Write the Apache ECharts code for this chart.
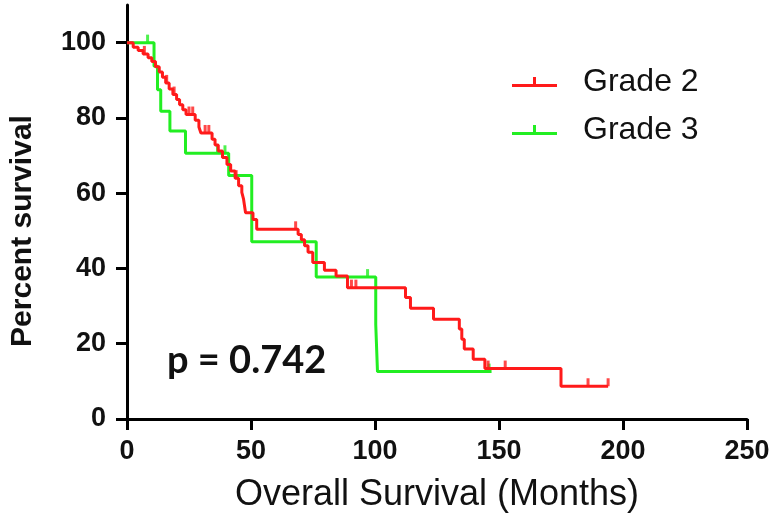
<!DOCTYPE html>
<html><head><meta charset="utf-8">
<script src="https://cdn.jsdelivr.net/npm/echarts@6/dist/echarts.min.js"></script>
<style>html,body{margin:0;padding:0;background:#fff}#c{width:779px;height:524px}</style>
</head><body><div id="c"></div>
<script>
// Grade 2 (red) Kaplan-Meier steps: time (months) and survival (%) after each event
const g2Time = [0, 2.5, 4.5, 6.5, 8.5, 10, 11.5, 13, 14.3, 15.6, 17, 18.5, 20, 21.2, 22.5, 23.8, 27.5, 29, 29.8, 34.3, 35.5, 36.8, 38.5, 40.3, 41.8, 43.6, 45, 46.3, 47, 47.8, 50.8, 52.3, 69, 70.3, 71.6, 73, 74.9, 79.6, 84.3, 88.9, 112.3, 114.3, 123.6, 134, 135, 136, 139.6, 144.3, 175, 194];
const g2Surv = [100, 98.8, 97.9, 97.0, 96.0, 95.0, 93.6, 92.2, 90.8, 89.3, 87.7, 86.2, 84.9, 83.5, 82.2, 80.9, 79.4, 77.6, 76.0, 74.3, 72.8, 71.2, 69.5, 67.6, 65.9, 64.0, 62.0, 60.2, 58.4, 54.8, 53.0, 50.4, 49.0, 47.6, 46.0, 44.3, 41.6, 39.5, 38.0, 34.9, 32.3, 29.4, 26.5, 23.9, 21.2, 18.6, 15.9, 13.4, 8.7, 8.7];
// Grade 2 censored observations
const g2CensTime = [7, 16, 19, 25, 26.5, 31.5, 33, 44, 68, 90.5, 92.3, 145.6, 152.5, 185.9, 194];
const g2CensSurv = [97.0, 89.3, 86.2, 80.9, 80.9, 76.0, 76.0, 64.0, 50.4, 34.9, 34.9, 13.4, 13.4, 8.7, 8.7];
// Grade 3 (green) Kaplan-Meier steps
const g3Time = [0, 10.9, 12.3, 13.6, 17.3, 23.6, 41, 50.3, 76.3, 100.3, 101, 147];
const g3Surv = [100, 93.7, 87.5, 81.8, 76.5, 70.6, 64.7, 47.1, 37.7, 25.1, 12.6, 12.6];
// Grade 3 censored observations
const g3CensTime = [8.3, 36.5, 39.5, 97, 146];
const g3CensSurv = [100, 70.6, 70.6, 37.7, 12.6];
// axes
const xTicks = [0, 50, 100, 150, 200, 250];
const yTicks = [0, 20, 40, 60, 80, 100];
const seriesNames = ['Grade 2', 'Grade 3'];
const pValueText = 'p = 0.742';

const RED = '#FF1A1A', GREEN = '#22EE22';
const pairs = (t, s) => t.map((v, i) => [v, s[i]]);
const legendIcon = 'path://M0,7h45v3H0z M21,0h3v7h-3z';
const censorSymbol = 'rect';

const chart = echarts.init(document.getElementById('c'), null, {renderer: 'canvas'});
chart.setOption({
  animation: false,
  backgroundColor: '#fff',
  grid: {left: 123, right: 32, top: 5, bottom: 105, containLabel: false},
  title: {
    text: pValueText, left: 162, top: 337,
    textStyle: {fontFamily: 'Lato', fontWeight: 'bold', fontSize: 38, color: '#111'}
  },
  legend: {
    data: seriesNames.map(n => ({name: n, icon: legendIcon})),
    orient: 'vertical', left: 512, top: 66, padding: 0,
    itemWidth: 45, itemHeight: 10, itemGap: 16,
    textStyle: {fontFamily: 'Liberation Sans', fontSize: 32, color: '#111', padding: [0, 0, 0, 21]}
  },
  xAxis: {
    type: 'value', min: 0, max: 250, interval: 50,
    name: 'Overall Survival (Months)', nameLocation: 'middle', nameGap: 58,
    nameTextStyle: {fontFamily: 'Liberation Sans', fontSize: 36, color: '#111'},
    axisLine: {show: true, lineStyle: {color: '#000', width: 3}},
    axisTick: {show: true, length: 11, lineStyle: {color: '#000', width: 3}, customValues: xTicks},
    axisLabel: {fontFamily: 'Liberation Sans', fontWeight: 'bold', fontSize: 27, color: '#111', margin: 19, customValues: xTicks},
    splitLine: {show: false}
  },
  yAxis: {
    type: 'value', min: 0, max: 110,
    name: 'Percent survival', nameLocation: 'middle', nameGap: 89,
    nameTextStyle: {fontFamily: 'Liberation Sans', fontWeight: 'bold', fontSize: 30, color: '#111', padding: [0, 38, 0, 0]},
    axisLine: {show: true, lineStyle: {color: '#000', width: 3}},
    axisTick: {show: true, length: 11, lineStyle: {color: '#000', width: 3}, customValues: yTicks},
    axisLabel: {fontFamily: 'Liberation Sans', fontWeight: 'bold', fontSize: 27, color: '#111', margin: 21, customValues: yTicks},
    splitLine: {show: false}
  },
  series: [
    {name: 'Grade 3', type: 'line', step: 'end', data: pairs(g3Time, g3Surv), showSymbol: false,
     lineStyle: {color: GREEN, width: 3}, itemStyle: {color: GREEN}, z: 2},
    {name: 'Grade 3 censored', type: 'scatter', data: pairs(g3CensTime, g3CensSurv), symbol: censorSymbol,
     symbolSize: [3, 8], symbolOffset: [0, -4], itemStyle: {color: GREEN}, z: 2},
    {name: 'Grade 2', type: 'line', step: 'end', data: pairs(g2Time, g2Surv), showSymbol: false,
     lineStyle: {color: RED, width: 3}, itemStyle: {color: RED}, z: 3},
    {name: 'Grade 2 censored', type: 'scatter', data: pairs(g2CensTime, g2CensSurv), symbol: censorSymbol,
     symbolSize: [3, 8], symbolOffset: [0, -4], itemStyle: {color: RED}, z: 3}
  ]
});
</script></body></html>
